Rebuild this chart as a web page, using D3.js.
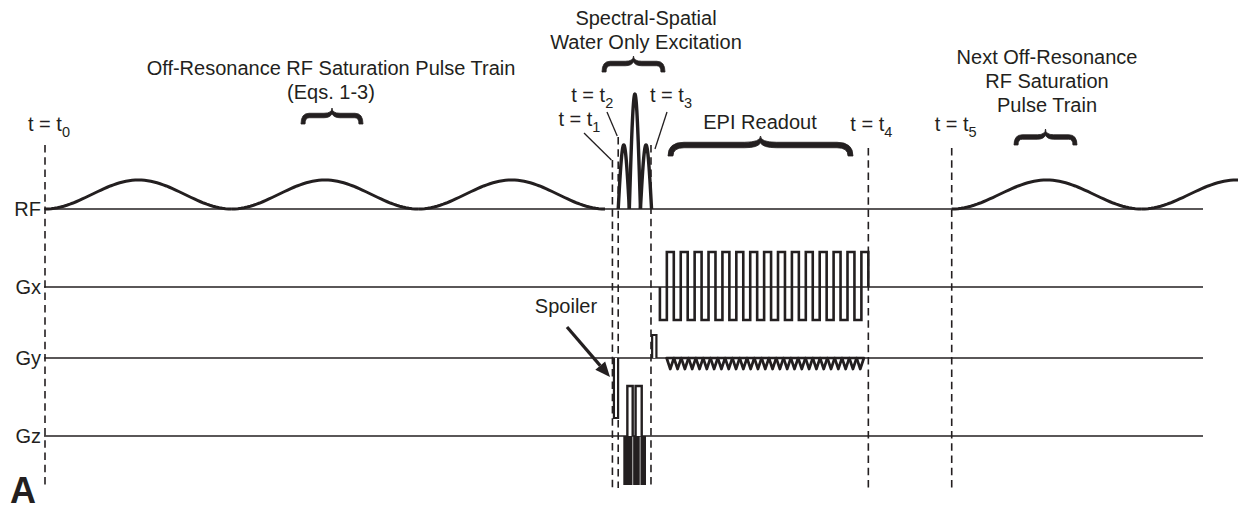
<!DOCTYPE html>
<html>
<head>
<meta charset="utf-8">
<script src="https://cdn.jsdelivr.net/npm/d3@7"></script>
<style>
  body { margin: 0; background: #fff; }
  svg { display: block; }
  text { font-family: "Liberation Sans", Arial, Helvetica, sans-serif; fill: #231f20; }
</style>
</head>
<body>
<svg id="chart" width="1238" height="512"></svg>
<script>
// ---- Sequence data (time in ms, amplitudes in relative units) ----
const channels = ["RF", "Gx", "Gy", "Gz"];

// timing markers t0 .. t5
const markerNames = ["0", "1", "2", "3", "4", "5"];
const markerTimes = [0, 49.0, 49.5, 52.33, 71.1, 78.3];

// off-resonance saturation pulses (raised-cosine envelopes)
const satStarts = [0, 16.12, 32.24, 78.3, 94.7];
const satDurations = [16.12, 16.12, 16.12, 16.4, 16.4];
const satAmps = [0.29, 0.29, 0.29, 0.29, 0.29];

// spectral-spatial water-only excitation subpulses
const ssStarts = [49.5, 50.46, 51.42];
const ssDurations = [0.96, 0.96, 0.96];
const ssAmps = [0.64, 1.15, 0.64];

// EPI readout gradient lobes on Gx
const gxStart = 53.1;
const gxLobeDuration = 0.6;
const gxLobeAmps = [-0.33, 0.35, -0.33, 0.35, -0.33, 0.35, -0.33, 0.35, -0.33, 0.35,
                    -0.33, 0.35, -0.33, 0.35, -0.33, 0.35, -0.33, 0.35, -0.33, 0.35,
                    -0.33, 0.35, -0.33, 0.35, -0.33, 0.35, -0.33, 0.35, -0.33, 0.35];

// Gy: spoiler, phase-encode prephaser and blips
const gySpoiler = { start: 49.13, end: 49.49, amp: -0.60 };
const gyPrephaser = { start: 52.43, end: 52.8, amp: 0.23 };
const gyBlipStart = 53.68;
const gyBlipDuration = 0.631;
const gyBlipAmps = [-0.11, -0.11, -0.11, -0.11, -0.11, -0.11, -0.11, -0.11, -0.11,
                    -0.11, -0.11, -0.11, -0.11, -0.11, -0.11, -0.11, -0.11, -0.11,
                    -0.11, -0.11, -0.11, -0.11, -0.11, -0.11, -0.11, -0.11, -0.11];

// Gz: oscillating slice-select lobes of the spectral-spatial pulse
const gzNegStarts = [49.94, 50.79, 51.42];
const gzNegEnds = [50.73, 51.36, 51.9];
const gzNegAmps = [-0.49, -0.49, -0.49];
const gzPosStarts = [50.29, 51.0];
const gzPosEnds = [50.75, 51.53];
const gzPosAmps = [0.50, 0.50];

// ---- Drawing ----
const W = 1238, H = 512;
const ink = "#231f20";
const fontSize = 20;
const svg = d3.select("#chart");
svg.append("rect").attr("width", W).attr("height", H).attr("fill", "#fff");

const x = d3.scaleLinear().domain([0, 100]).range([45, 1203]);
const base = d3.scaleOrdinal().domain(channels).range([209, 287, 358, 436]);
const amp = d3.scaleLinear().domain([0, 1]).range([0, -100]);
const yOf = (ch, a) => base(ch) + amp(a);
const line = d3.line().x(d => x(d[0])).y(d => d[1]);

// channel baselines and labels
svg.append("g").selectAll("line").data(channels).join("line")
  .attr("x1", x(0) - 1).attr("x2", x(100))
  .attr("y1", d => base(d)).attr("y2", d => base(d))
  .attr("stroke", ink).attr("stroke-width", 1.6);

svg.append("g").selectAll("text").data(channels).join("text")
  .attr("x", x(0) - 4).attr("y", d => base(d)).attr("dy", "0.36em")
  .attr("text-anchor", "end").attr("font-size", fontSize).text(d => d);

// timing markers (dashed)
const markerTop = [145, 160, 137, 145, 148, 148];
svg.append("g").selectAll("line").data(markerTimes).join("line")
  .attr("x1", d => x(d)).attr("x2", d => x(d))
  .attr("y1", (d, i) => markerTop[i]).attr("y2", 488)
  .attr("stroke", ink).attr("stroke-width", 1.6)
  .attr("stroke-dasharray", "7.5,4.8");

// marker labels
const markerLabelPos = [
  { dx: -17, y: 131, anchor: "start" },
  { dx: -12, y: 126, anchor: "end" },
  { dx: -5,  y: 102, anchor: "end" },
  { dx: -1,  y: 102, anchor: "start" },
  { dx: -18, y: 131, anchor: "start" },
  { dx: -17, y: 131, anchor: "start" }
];
const ml = svg.append("g").selectAll("text").data(markerTimes).join("text")
  .attr("x", (d, i) => x(d) + markerLabelPos[i].dx)
  .attr("y", (d, i) => markerLabelPos[i].y)
  .attr("text-anchor", (d, i) => markerLabelPos[i].anchor)
  .attr("font-size", fontSize);
ml.append("tspan").text("t = t");
ml.append("tspan").attr("font-size", 14.5).attr("dy", 6).text((d, i) => markerNames[i]);

// leader lines from labels to markers
const leaders = [
  { i: 1, x1: 584, y1: 133, y2: 160 },
  { i: 2, x1: 607, y1: 112, y2: 136 },
  { i: 3, x1: 667, y1: 112, y2: 149 }
];
svg.append("g").selectAll("line").data(leaders).join("line")
  .attr("x1", d => d.x1).attr("y1", d => d.y1)
  .attr("x2", d => x(markerTimes[d.i]) + (d.i === 3 ? 4 : -1)).attr("y2", d => d.y2)
  .attr("stroke", ink).attr("stroke-width", 1.3);

// RF: saturation pulse trains
const satPts = (s, dur, a) => d3.range(0, 61).map(k =>
  [s + dur * k / 60, yOf("RF", a * (1 - Math.cos(2 * Math.PI * k / 60)) / 2)]);
svg.append("g").selectAll("path").data(satStarts).join("path")
  .attr("d", (d, i) => line(satPts(d, satDurations[i], satAmps[i])))
  .attr("fill", "none").attr("stroke", ink).attr("stroke-width", 3);

// RF: spectral-spatial subpulses
const ssPts = (s, dur, a) => d3.range(0, 41).map(k =>
  [s + dur * k / 40, yOf("RF", a * Math.sin(Math.PI * k / 40))]);
svg.append("g").selectAll("path").data(ssStarts).join("path")
  .attr("d", (d, i) => line(ssPts(d, ssDurations[i], ssAmps[i])))
  .attr("fill", "none").attr("stroke", ink).attr("stroke-width", 3.4)
  .attr("stroke-linejoin", "round");

// Gx: EPI readout train
const gxPts = [[gxStart, base("Gx")]];
gxLobeAmps.forEach((a, i) => {
  const t0 = gxStart + i * gxLobeDuration, t1 = t0 + gxLobeDuration;
  gxPts.push([t0, yOf("Gx", a)], [t1, yOf("Gx", a)]);
});
gxPts.push([gxStart + gxLobeAmps.length * gxLobeDuration, base("Gx")]);
svg.append("path").attr("d", line(gxPts))
  .attr("fill", "none").attr("stroke", ink).attr("stroke-width", 2.6)
  .attr("stroke-linejoin", "miter");

// Gy: rectangular lobes
const rectPts = (ch, s, e, a) => [[s, base(ch)], [s, yOf(ch, a)], [e, yOf(ch, a)], [e, base(ch)]];
svg.append("path").attr("d", line(rectPts("Gy", gySpoiler.start, gySpoiler.end, gySpoiler.amp)))
  .attr("fill", "#fff").attr("stroke", ink).attr("stroke-width", 2.2);
svg.append("path").attr("d", line(rectPts("Gy", gyPrephaser.start, gyPrephaser.end, gyPrephaser.amp)))
  .attr("fill", "#fff").attr("stroke", ink).attr("stroke-width", 2.2);

// Gy: phase-encode blips
svg.append("g").selectAll("path").data(gyBlipAmps).join("path")
  .attr("d", (a, i) => {
    const s = gyBlipStart + i * gyBlipDuration, e = s + gyBlipDuration;
    return line([[s, base("Gy")], [(s + e) / 2, yOf("Gy", a)], [e, base("Gy")]]) + "Z";
  })
  .attr("fill", "#fff").attr("stroke", ink).attr("stroke-width", 2.7)
  .attr("stroke-linejoin", "round");

// Gz: negative lobes (solid) and positive lobes (outlined)
svg.append("g").selectAll("rect").data(gzNegStarts).join("rect")
  .attr("x", d => x(d)).attr("width", (d, i) => x(gzNegEnds[i]) - x(d))
  .attr("y", base("Gz")).attr("height", (d, i) => yOf("Gz", gzNegAmps[i]) - base("Gz"))
  .attr("fill", ink);
svg.append("g").selectAll("path").data(gzPosStarts).join("path")
  .attr("d", (d, i) => line(rectPts("Gz", d, gzPosEnds[i], gzPosAmps[i])))
  .attr("fill", "#fff").attr("stroke", ink).attr("stroke-width", 2.4);

// curly braces
function bracePath(x1, x2, yEnd, yArm, yTip, w) {
  const xm = (x1 + x2) / 2, r = Math.min((x2 - x1) * 0.13, 16);
  const u = yArm - w / 2, l = yArm + w / 2;
  const p = d3.path();
  p.moveTo(x1, yEnd);
  p.quadraticCurveTo(x1, u, x1 + r, u);
  p.lineTo(xm - r, u);
  p.quadraticCurveTo(xm, u, xm, yTip);
  p.quadraticCurveTo(xm, u, xm + r, u);
  p.lineTo(x2 - r, u);
  p.quadraticCurveTo(x2, u, x2, yEnd);
  p.lineTo(x2 - w * 0.9, yEnd);
  p.quadraticCurveTo(x2 - w * 0.9, l, x2 - r, l);
  p.lineTo(xm + r, l);
  p.quadraticCurveTo(xm + w * 0.4, l, xm, l - w * 0.9);
  p.quadraticCurveTo(xm - w * 0.4, l, xm - r, l);
  p.lineTo(x1 + r, l);
  p.quadraticCurveTo(x1 + w * 0.9, l, x1 + w * 0.9, yEnd);
  p.closePath();
  return p.toString();
}
const braces = [
  { x1: 301, x2: 363, yEnd: 124, yArm: 115.5, yTip: 108, w: 4.5 },
  { x1: 602, x2: 665, yEnd: 72, yArm: 63.5, yTip: 56, w: 4.5 },
  { x1: 668, x2: 853, yEnd: 156, yArm: 145, yTip: 136, w: 5.5 },
  { x1: 1014, x2: 1077, yEnd: 145, yArm: 137, yTip: 129, w: 4.5 }
];
svg.append("g").selectAll("path").data(braces).join("path")
  .attr("d", d => bracePath(d.x1, d.x2, d.yEnd, d.yArm, d.yTip, d.w))
  .attr("fill", ink).attr("stroke", ink).attr("stroke-width", 0.8);

// annotations
const notes = [
  { x: 331, y: 75, t: "Off-Resonance RF Saturation Pulse Train" },
  { x: 331, y: 99, t: "(Eqs. 1-3)" },
  { x: 646, y: 25, t: "Spectral-Spatial" },
  { x: 646, y: 49, t: "Water Only Excitation" },
  { x: 760, y: 129, t: "EPI Readout" },
  { x: 1047, y: 64, t: "Next Off-Resonance" },
  { x: 1047, y: 88, t: "RF Saturation" },
  { x: 1047, y: 112, t: "Pulse Train" },
  { x: 566, y: 313, t: "Spoiler" }
];
svg.append("g").selectAll("text").data(notes).join("text")
  .attr("x", d => d.x).attr("y", d => d.y).attr("text-anchor", "middle")
  .attr("font-size", fontSize).text(d => d.t);

// spoiler arrow
const tip = [610, 377], tail = [567, 327];
const ang = Math.atan2(tip[1] - tail[1], tip[0] - tail[0]);
const headLen = 15, headW = 6.5;
const hb = [tip[0] - headLen * Math.cos(ang), tip[1] - headLen * Math.sin(ang)];
svg.append("line")
  .attr("x1", tail[0]).attr("y1", tail[1]).attr("x2", hb[0]).attr("y2", hb[1])
  .attr("stroke", ink).attr("stroke-width", 3.2);
svg.append("path")
  .attr("d", `M${tip[0]},${tip[1]}L${hb[0] - headW * Math.sin(ang)},${hb[1] + headW * Math.cos(ang)}L${hb[0] + headW * Math.sin(ang)},${hb[1] - headW * Math.cos(ang)}Z`)
  .attr("fill", ink);

// panel letter
svg.append("text").attr("x", 10).attr("y", 503)
  .attr("font-size", 36).attr("font-weight", "bold").text("A");
</script>
</body>
</html>
